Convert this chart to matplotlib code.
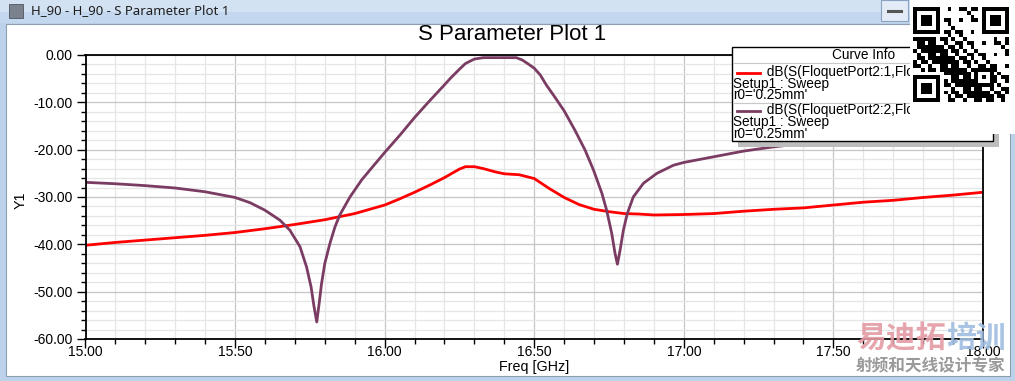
import numpy as np
import matplotlib
matplotlib.use("Agg")
import matplotlib.pyplot as plt
from matplotlib.patches import Rectangle
from matplotlib.lines import Line2D
from matplotlib.ticker import MultipleLocator, FormatStrFormatter

plt.rcParams['font.family'] = ['Liberation Sans', 'DejaVu Sans']

# S21 (red)
freq_s21 = [15.0, 15.1, 15.2, 15.3, 15.4, 15.5, 15.6, 15.7, 15.8, 15.9,
            16.0, 16.05, 16.1, 16.15, 16.2, 16.25, 16.27, 16.3, 16.33, 16.37,
            16.4, 16.45, 16.5, 16.55, 16.6, 16.65, 16.7, 16.75, 16.8, 16.85,
            16.9, 17.0, 17.1, 17.2, 17.3, 17.4, 17.5, 17.6, 17.7, 17.8,
            17.9, 18.0]
db_s21 = [-40.2, -39.6, -39.1, -38.6, -38.1, -37.5, -36.7, -35.8, -34.8, -33.5,
          -31.7, -30.4, -29.0, -27.5, -25.9, -24.1, -23.6, -23.6, -24.0, -24.7,
          -25.1, -25.3, -26.1, -28.2, -30.1, -31.6, -32.6, -33.1, -33.5, -33.6,
          -33.8, -33.7, -33.5, -33.0, -32.6, -32.3, -31.7, -31.1, -30.7, -30.1,
          -29.6, -29.0]

# S22 (purple)
freq_s22 = [15.0, 15.1, 15.2, 15.3, 15.4, 15.5, 15.55, 15.6, 15.65, 15.683,
            15.717, 15.739, 15.754, 15.764, 15.773, 15.781, 15.789, 15.8, 15.817, 15.834,
            15.85, 15.884, 15.923, 15.96, 16.0, 16.05, 16.1, 16.15, 16.2, 16.22,
            16.25, 16.27, 16.3, 16.33, 16.44, 16.46, 16.48, 16.5, 16.52, 16.54,
            16.57, 16.6, 16.636, 16.67, 16.698, 16.726, 16.742, 16.759, 16.77, 16.778,
            16.787, 16.798, 16.811, 16.831, 16.865, 16.91, 16.965, 17.0, 17.1, 17.2,
            17.3, 17.4, 17.5, 17.6, 17.7, 17.8, 17.9, 18.0]
db_s22 = [-26.9, -27.2, -27.6, -28.1, -28.9, -30.1, -31.2, -32.8, -34.9, -37.0,
          -40.5, -44.8, -49.0, -53.2, -56.4, -52.5, -48.3, -44.0, -39.8, -36.3,
          -33.8, -30.0, -26.4, -23.6, -20.6, -17.0, -13.2, -9.7, -6.3, -4.9,
          -3.0, -1.8, -0.85, -0.56, -0.56, -1.06, -1.9, -2.8, -4.2, -6.3,
          -9.0, -11.8, -15.9, -20.1, -24.3, -29.2, -32.8, -37.7, -41.9, -44.2,
          -41.2, -37.0, -33.5, -30.0, -27.1, -25.0, -23.3, -22.7, -21.5, -20.3,
          -19.4, -18.7, -18.1, -17.6, -17.2, -16.8, -16.5, -16.2]

legend_names = ["dB(S(FloquetPort2:1,FloquetPort1:1))",
                "dB(S(FloquetPort2:2,FloquetPort2:2))"]
legend_setup = "Setup1 : Sweep"
legend_param = "r0='0.25mm'"

RED = "#ff0000"
PURPLE = "#7b3c63"
W, H = 1015, 381


def fy(py):
    return 1 - py / H


fig = plt.figure(figsize=(W / 100, H / 100), dpi=100)
fig.patch.set_facecolor("#bcd2ea")


def box(x0, y0, x1, y1, **kw):
    r = Rectangle((x0 / W, fy(y1)), (x1 - x0) / W, (y1 - y0) / H,
                  transform=fig.transFigure, **kw)
    fig.add_artist(r)
    return r


# window frame
box(0, 0, W, 12, facecolor="#d3e2f3", edgecolor="none", zorder=-5)
box(0, 12, W, 23, facecolor="#c3d7ee", edgecolor="none", zorder=-5)
box(6, 24, 1010, 376, facecolor="white", edgecolor="#8d9db2", lw=0.8, zorder=-4)
box(9, 4, 23, 18, facecolor="#7a838d", edgecolor="#4d5560", lw=0.6, zorder=-3)
fig.text(31 / W, fy(11), "H_90 - H_90 - S Parameter Plot 1", family="Noto Sans",
         fontsize=9.5, color="#1e1e1e", va="center", ha="left")
box(881, 0, 908, 21, facecolor="#e2ebf6", edgecolor="#8aa2c2", lw=0.8, zorder=-3)
fig.add_artist(Line2D([888 / W, 901 / W], [fy(11), fy(11)], color="#555555",
                      lw=2.2, transform=fig.transFigure, zorder=-2))

# plot
ax = fig.add_axes([85.5 / W, fy(339), (983 - 85.5) / W, (339 - 55) / H])
ax.plot(freq_s21, db_s21, color=RED, lw=2.0)
ax.plot(freq_s22, db_s22, color=PURPLE, lw=2.0)
ax.set_xlim(15, 18)
ax.set_ylim(-60, 0)
ax.xaxis.set_major_locator(MultipleLocator(0.5))
ax.xaxis.set_minor_locator(MultipleLocator(0.1))
ax.yaxis.set_major_locator(MultipleLocator(10))
ax.yaxis.set_minor_locator(MultipleLocator(2))
ax.xaxis.set_major_formatter(FormatStrFormatter('%.2f'))
ax.yaxis.set_major_formatter(FormatStrFormatter('%.2f'))
ax.grid(which='major', color='#c6c6c6', lw=0.9)
ax.grid(which='minor', color='#e6e6e6', lw=0.9)
ax.set_axisbelow(True)
for s in ax.spines.values():
    s.set_color('black')
    s.set_linewidth(1.3)
ax.tick_params(which='major', length=6.5, width=1, labelsize=10, colors='black')
ax.tick_params(which='minor', length=3.5, width=1)
ax.tick_params(axis='y', which='major', pad=2.8)
ax.tick_params(axis='x', which='major', pad=-2.5)

fig.text(512 / W, fy(34), "S Parameter Plot 1", ha="center", va="center", fontsize=16)
fig.text(20.5 / W, fy(200), "Y1", rotation=90, ha="center", va="center", fontsize=10.3)
fig.text(534 / W, fy(367), "Freq [GHz]", ha="center", va="center", fontsize=10.3)

# legend box
box(738, 53, 999, 147, facecolor="#bdbdbd", edgecolor="none", zorder=4)
box(732, 47, 993, 141, facecolor="white", edgecolor="black", lw=1.0, zorder=5)
for yy in (63.3, 103.3):
    fig.add_artist(Line2D([733 / W, 992 / W], [fy(yy), fy(yy)], color="#c8c8c8",
                          lw=0.8, transform=fig.transFigure, zorder=6))
fig.text(864 / W, fy(55), "Curve Info", ha="center", va="center", fontsize=9.8, zorder=6)
for i, (name, col) in enumerate(zip(legend_names, [RED, PURPLE])):
    y0 = 73.3 + i * 38.4
    fig.add_artist(Line2D([737 / W, 760 / W], [fy(y0 - 0.8), fy(y0 - 0.8)], color=col,
                          lw=2.0, transform=fig.transFigure, zorder=6))
    entry = " " * 9 + name + "\n" + legend_setup + "\n" + legend_param
    fig.text(733 / W, fy(y0 + 10.3), entry, ha="left", va="center", multialignment="left",
             fontsize=9.8, linespacing=0.78, zorder=6)

# QR code overlay
box(910, 0, W, 134, facecolor="white", edgecolor="none", zorder=8)
n = 25
qr = np.zeros((n, n))
for r in range(n):
    for c in range(n):
        qr[r, c] = ((r * c) % 3 + (r + c) % 2 + (r * 7 + c * 3) % 5) % 2
for (r0, c0) in [(0, 0), (0, n - 7), (n - 7, 0)]:
    qr[max(r0 - 1, 0):r0 + 8, max(c0 - 1, 0):c0 + 8] = 0
    qr[r0:r0 + 7, c0:c0 + 7] = 1
    qr[r0 + 1:r0 + 6, c0 + 1:c0 + 6] = 0
    qr[r0 + 2:r0 + 5, c0 + 2:c0 + 5] = 1
qr[16:21, 16:21] = 1
qr[17:20, 17:20] = 0
qr[18, 18] = 1
qax = fig.add_axes([913 / W, fy(102), 96 / W, 95 / H], zorder=9)
qax.imshow(qr, cmap="gray_r", interpolation="nearest", aspect="auto")
qax.axis("off")

# watermark
fig.text(856 / W, fy(338), "易迪拓", family=["Noto Sans CJK SC"], weight="bold",
         fontsize=21.5, color="#e49aa3", alpha=0.9, va="center", ha="left", zorder=7)
fig.text(946 / W, fy(338), "培训", family=["Noto Sans CJK SC"], weight="bold",
         fontsize=21.5, color="#9fbde0", alpha=0.9, va="center", ha="left", zorder=7)
fig.text(856 / W, fy(366.5), "射频和天线设计专家", family=["Noto Sans CJK SC"],
         weight="bold", fontsize=12, color="#9a9a9a", va="center", ha="left", zorder=7)

fig.savefig("out.png", dpi=100, facecolor=fig.get_facecolor())
